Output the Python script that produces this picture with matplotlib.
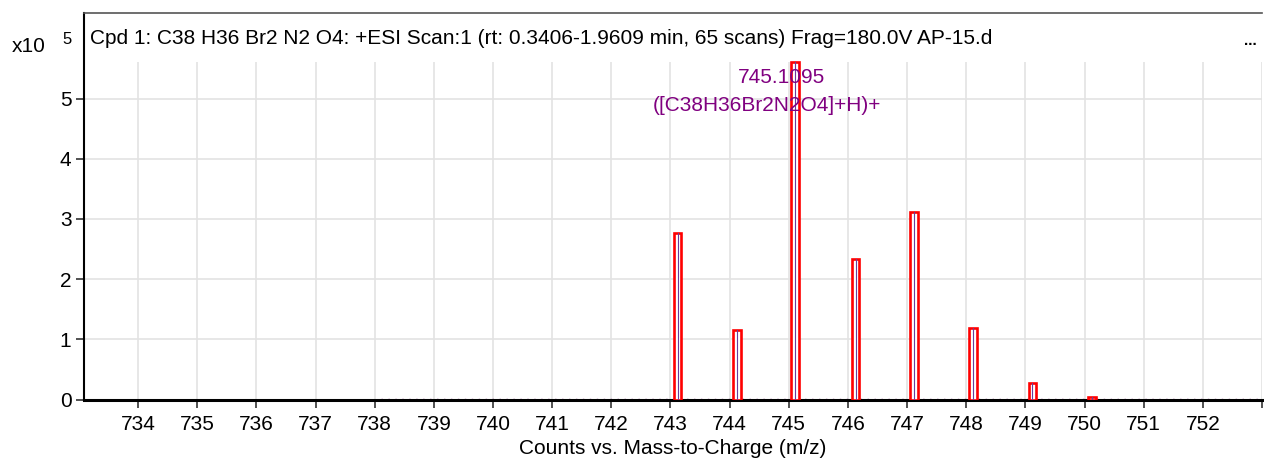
import matplotlib
matplotlib.use('Agg')
import matplotlib.pyplot as plt

# peak data (m/z, counts x10^5)
mz = [743.12, 744.12, 745.11, 746.13, 747.12, 748.12, 749.12, 750.13]
counts = [2.76, 1.16, 5.60, 2.33, 3.12, 1.19, 0.27, 0.04]
xticks = list(range(734, 754))
xlabels = [str(t) if t <= 752 else '' for t in xticks]
yticks = [0, 1, 2, 3, 4, 5]

titulo = 'Cpd 1: C38 H36 Br2 N2 O4: +ESI Scan:1 (rt: 0.3406-1.9609 min, 65 scans) Frag=180.0V AP-15.d'
pico_mz = '745.1095'
pico_formula = '([C38H36Br2N2O4]+H)+'

plt.rcParams['font.family'] = ['Liberation Sans', 'DejaVu Sans']

W, H = 1264, 462
fig = plt.figure(figsize=(W / 100, H / 100), dpi=100)
ax = fig.add_axes([84 / W, (H - 399.5) / H, (1262 - 84) / W, (399.5 - 12.5) / H])

ytop = 6.43
grid_top = 5.61
ax.set_xlim(733.086, 753.0)
ax.set_ylim(0, ytop)

# grid (stops below header band)
ax.vlines(xticks, 0, grid_top, color='#e3e3e3', lw=1.2, zorder=0)
ax.hlines(yticks[1:], 733.086, 753.0, color='#e3e3e3', lw=1.2, zorder=0)

# baseline noise trace
ax.plot([738.1, 753.0], [0.015, 0.015], color='#8b2a8b', lw=1.0, ls=(0, (1, 4)), zorder=1)

# peaks: hollow red boxes with centroid line
for x, y in zip(mz, counts):
    ax.bar(x, y, width=0.13, facecolor='white', edgecolor='red', lw=1.9, zorder=3)
    ax.plot([x, x], [0, y], color='#6a3d9a', lw=0.8, zorder=4)

ax.text(744.88, 5.35, pico_mz, color='#800080', fontsize=15, ha='center', va='center', zorder=5)
ax.text(744.63, 4.88, pico_formula, color='#800080', fontsize=15, ha='center', va='center', zorder=5)

ax.set_xticks(xticks)
ax.set_xticklabels(xlabels, fontsize=15)
ax.set_yticks(yticks)
ax.set_yticklabels([str(t) for t in yticks], fontsize=15)
ax.tick_params(axis='both', direction='out', length=6, width=1.2, color='#333333', pad=3)
ax.tick_params(axis='x', pad=5)

ax.spines['right'].set_visible(False)
ax.spines['top'].set_color('#555555')
ax.spines['top'].set_linewidth(1.2)
ax.spines['left'].set_linewidth(1.5)
ax.spines['bottom'].set_linewidth(2.2)

ax.set_xlabel('Counts vs. Mass-to-Charge (m/z)', fontsize=15, labelpad=4)

fig.text(90 / W, 1 - 38 / H, titulo, fontsize=15, ha='left', va='center')
fig.text(1250 / W, 1 - 41 / H, '...', fontsize=11, fontweight='bold', ha='center', va='center')
fig.text(12 / W, 1 - 46 / H, 'x10', fontsize=15, ha='left', va='center')
fig.text(62 / W, 1 - 40 / H, '5', fontsize=12, ha='left', va='center')

fig.savefig('out.png', dpi=100)
